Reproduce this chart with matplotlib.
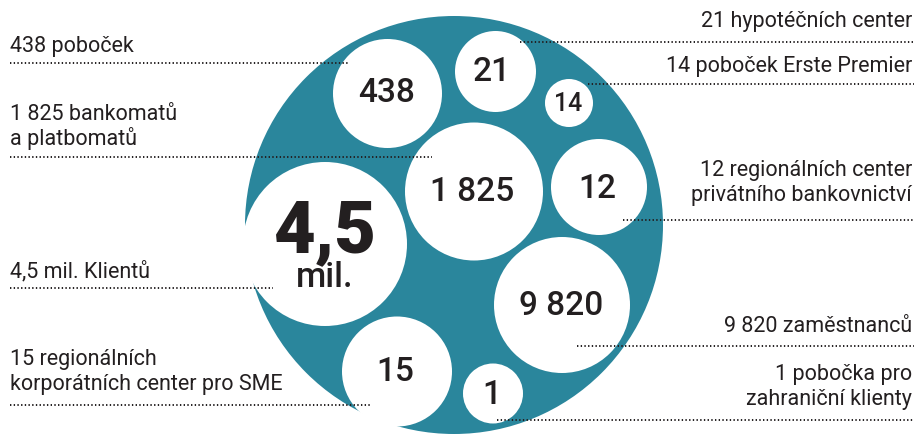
import matplotlib
matplotlib.use("Agg")
import matplotlib.pyplot as plt
from matplotlib.patches import Circle

# ---- data ----
values = ["438", "21", "14", "1 825", "12", "4,5", "9 820", "15", "1"]
left_labels = ["438 poboček", "1 825 bankomatů\na platbomatů", "4,5 mil. Klientů",
               "15 regionálních\nkorporátních center pro SME"]
right_labels = ["21 hypotéčních center", "14 poboček Erste Premier",
                "12 regionálních center\nprivátního bankovnictví", "9 820 zaměstnanců",
                "1 pobočka pro\nzahraniční klienty"]
big_unit = "mil."

# ---- layout (pixel coordinates) ----
outer = (454, 225, 209)
bubbles = [(387.5, 93.5, 54.5), (495.5, 71.5, 40.5), (569, 103, 24), (474, 191.5, 69),
           (599, 187, 48), (325, 244, 82), (562, 305, 68), (397, 371.5, 55), (493, 393.5, 30)]
num_pos = [(387, 90), (492, 68.5), (568, 101), (472, 188.5), (597, 185), (325, 225),
           (561, 302), (395, 368), (492, 391)]
num_size = [24, 24, 18, 24, 24, 52, 24, 24, 24]
# left labels: (baseline of first line, line y, line end x)
left_lay = [(52, 63, 348), (120, 157, 432), (277, 288, 273), (365, 405, 370)]
right_lay = [(27, 42, 520), (72, 84, 588), (176, 220, 623), (332, 346, 577), (380, 420, 497)]

TEAL = "#2a869c"
DARK = "#231f20"
FONT = "Roboto"

fig = plt.figure(figsize=(9.19, 4.36), dpi=100)
ax = fig.add_axes([0, 0, 1, 1])
ax.set_xlim(0, 919)
ax.set_ylim(436, 0)
ax.axis("off")

ax.add_patch(Circle(outer[:2], outer[2], color=TEAL, lw=0, zorder=1))
for (cx, cy, r) in bubbles:
    ax.add_patch(Circle((cx, cy), r, color="white", lw=0, zorder=2))

for v, (x, y), s in zip(values, num_pos, num_size):
    if v == "4,5":
        ax.text(x, 252, v, ha="center", va="baseline", fontsize=s, fontweight="black",
                color=DARK, family=FONT, zorder=3)
    else:
        ax.text(x, y, v, ha="center", va="center_baseline", fontsize=s, fontweight="medium",
                color=DARK, family=FONT, zorder=3)
ax.text(325, 287, big_unit, ha="center", va="baseline", fontsize=25, fontweight="medium",
        color=DARK, family=FONT, zorder=3)

LS = (0, (0.7, 1.2))
LINE_SP = 25
FS = 15.5
for lab, (by, ly, xe) in zip(left_labels, left_lay):
    for i, line in enumerate(lab.split("\n")):
        ax.text(10, by + i * LINE_SP, line, ha="left", va="baseline", fontsize=FS,
                color=DARK, family=FONT, zorder=4)
    ax.plot([10, xe], [ly, ly], color=DARK, lw=1.4, ls=LS, zorder=4)

for lab, (by, ly, xs) in zip(right_labels, right_lay):
    for i, line in enumerate(lab.split("\n")):
        ax.text(912, by + i * LINE_SP, line, ha="right", va="baseline", fontsize=FS,
                color=DARK, family=FONT, zorder=4)
    ax.plot([xs, 914], [ly, ly], color=DARK, lw=1.4, ls=LS, zorder=4)

fig.savefig("out.png", dpi=100)
